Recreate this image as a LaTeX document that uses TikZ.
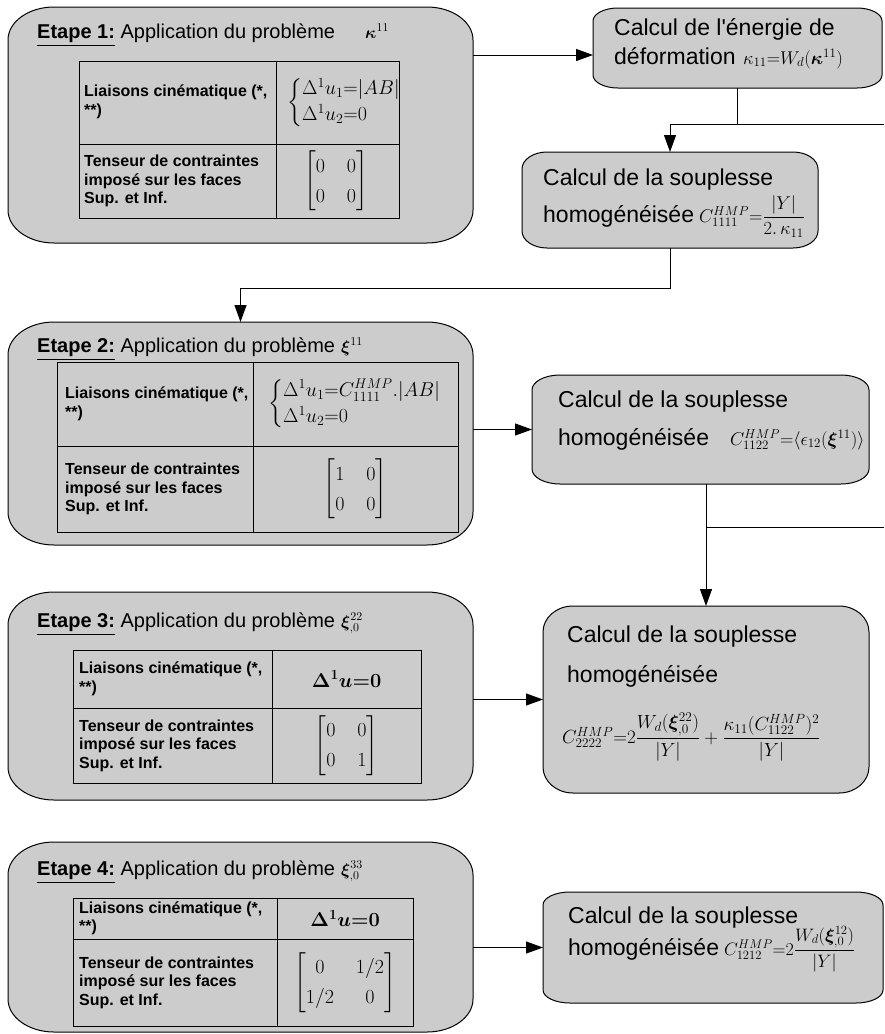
\documentclass[tikz,border=0pt]{standalone}
\usepackage{fix-cm}
\usepackage{amsmath,amssymb,bm}
\usepackage[no-math]{fontspec}
\setmainfont{Liberation Sans}[Ligatures=TeXOff]
\usetikzlibrary{arrows.meta}
\definecolor{boxgray}{RGB}{204,204,204}
\newcommand\eshape[3]{%
 \draw[shapeline] ([yshift=-#3pt]#1.north west) arc[start angle=180,end angle=90,x radius=#2pt,y radius=#3pt]
  -- ([xshift=-#2pt]#1.north east) arc[start angle=90,end angle=0,x radius=#2pt,y radius=#3pt]
  -- ([yshift=#3pt]#1.south east) arc[start angle=0,end angle=-90,x radius=#2pt,y radius=#3pt]
  -- ([xshift=#2pt]#1.south west) arc[start angle=270,end angle=180,x radius=#2pt,y radius=#3pt]
  -- cycle;}
\newcommand\mymat[1]{{\renewcommand\arraystretch{1.25}\left[\begin{array}{@{}c@{\hspace{22pt}}c@{}}#1\end{array}\right]}}
\newcommand\mycases[1]{{\renewcommand\arraystretch{1.1}\left\{\begin{array}{@{}l@{}}#1\end{array}\right.}}
\tikzset{
 boxarea/.style={rectangle, inner sep=0pt, outer sep=0pt},
 shapeline/.style={draw=black, fill=boxgray, line width=1pt},
 arr/.style={-{Triangle[length=17pt,width=12pt]}, line width=1pt},
 conn/.style={line width=1pt},
 tline/.style={line width=1pt},
 ttl/.style={anchor=base west, inner sep=0pt, font=\fontsize{20}{24}\selectfont},
 txt/.style={anchor=base west, inner sep=0pt, font=\fontsize{23}{27}\selectfont},
 cell/.style={anchor=west, inner sep=0pt, align=left, font=\fontsize{16}{18.5}\selectfont\bfseries},
 mth/.style={inner sep=0pt, font=\fontsize{20}{24}\selectfont},
 smth/.style={inner sep=0pt, anchor=base west, font=\fontsize{18.5}{22}\selectfont},
 tsym/.style={inner sep=0pt, anchor=base west, font=\fontsize{17}{20}\selectfont},
}
\begin{document}
\begin{tikzpicture}[x=1pt,y=1pt]
\useasboundingbox (0,0) rectangle (884,-1034);
% box areas
\node[boxarea, minimum width=465pt, minimum height=236pt] (e1) at (240.5,-125) {};
\node[boxarea, minimum width=465pt, minimum height=223pt] (e2) at (240.5,-433.5) {};
\node[boxarea, minimum width=465pt, minimum height=208pt] (e3) at (240.5,-696) {};
\node[boxarea, minimum width=465pt, minimum height=190pt] (e4) at (240.5,-937) {};
\node[boxarea, minimum width=289pt, minimum height=80pt] (en) at (737.5,-48) {};
\node[boxarea, minimum width=296pt, minimum height=96pt] (s1) at (670,-200) {};
\node[boxarea, minimum width=337pt, minimum height=109pt] (s2) at (700.5,-429.5) {};
\node[boxarea, minimum width=326pt, minimum height=187pt] (s3) at (706,-699.5) {};
\node[boxarea, minimum width=340pt, minimum height=111pt] (s4) at (713,-947.5) {};
% shapes
\eshape{e1}{46}{33}
\eshape{e2}{46}{33}
\eshape{e3}{46}{33}
\eshape{e4}{46}{33}
\eshape{en}{25}{13}
\eshape{s1}{25}{17}
\eshape{s2}{28}{15}
\eshape{s3}{30}{26}
\eshape{s4}{27}{13}

% ---- Etape 1
\node[ttl] (t1) at (37,-38) {\underline{\textbf{Etape 1:}} Application du problème};
\node[tsym] (k1) at (365,-38) {$\boldsymbol{\kappa}^{11}$};
\draw[tline] (79,-61) rectangle (399,-218);
\draw[tline] (276,-61) -- (276,-218);
\draw[tline] (79,-144) -- (399,-144);
\node[cell] (c1a) at (84,-102) {Liaisons cinématique (*,\\**)};
\node[mth, anchor=west] (m1a) at (287,-102.5) {$\mycases{\Delta^1u_1{=}|AB|\\ \Delta^1u_2{=}0}$};
\node[cell] (c1b) at (84,-181) {Tenseur de contraintes\\imposé sur les faces\\Sup. et Inf.};
\node[mth] (m1b) at (336,-181) {$\mymat{0&0\\0&0}$};

% ---- Etape 2
\node[ttl] (t2) at (37,-352) {\underline{\textbf{Etape 2:}} Application du problème};
\node[tsym] (k2) at (341,-352) {$\boldsymbol{\xi}^{11}$};
\draw[tline] (57,-362) rectangle (458,-532);
\draw[tline] (253,-362) -- (253,-532);
\draw[tline] (57,-446) -- (458,-446);
\node[cell] (c2a) at (65,-404) {Liaisons cinématique (*,\\**)};
\node[mth, anchor=west] (m2a) at (268,-404) {$\mycases{\Delta^1u_1{=}C^{HMP}_{1111}.|AB|\\ \Delta^1u_2{=}0}$};
\node[cell] (c2b) at (65,-489) {Tenseur de contraintes\\imposé sur les faces\\Sup. et Inf.};
\node[mth] (m2b) at (355.5,-489) {$\mymat{1&0\\0&0}$};

% ---- Etape 3
\node[ttl] (t3) at (37,-627) {\underline{\textbf{Etape 3:}} Application du problème};
\node[tsym] (k3) at (341,-627) {$\boldsymbol{\xi}^{22}_{,0}$};
\draw[tline] (73,-650) rectangle (421,-783);
\draw[tline] (272,-650) -- (272,-783);
\draw[tline] (73,-708) -- (421,-708);
\node[cell] (c3a) at (79,-679) {Liaisons cinématique (*,\\**)};
\node[mth] (m3a) at (346.5,-679) {$\boldsymbol{\Delta^1u{=}0}$};
\node[cell] (c3b) at (79,-745.5) {Tenseur de contraintes\\imposé sur les faces\\Sup. et Inf.};
\node[mth] (m3b) at (346.5,-745.5) {$\mymat{0&0\\0&1}$};

% ---- Etape 4
\node[ttl] (t4) at (37,-875) {\underline{\textbf{Etape 4:}} Application du problème};
\node[tsym] (k4) at (341,-875) {$\boldsymbol{\xi}^{33}_{,0}$};
\draw[tline] (73,-898) rectangle (413,-1026);
\draw[tline] (277,-898) -- (277,-1026);
\draw[tline] (73,-939) -- (413,-939);
\node[cell] (c4a) at (79,-918.5) {Liaisons cinématique (*,\\**)};
\node[mth] (m4a) at (345,-918.5) {$\boldsymbol{\Delta^1u{=}0}$};
\node[cell] (c4b) at (79,-982.5) {Tenseur de contraintes\\imposé sur les faces\\Sup. et Inf.};
\node[mth] (m4b) at (345,-982.5) {$\mymat{0&1/2\\1/2&0}$};

% ---- right column texts
\node[txt] (en1) at (614,-35) {Calcul de l'énergie de};
\node[txt] (en2) at (614,-64) {déformation};
\node[smth] (enm) at (743,-64) {$\kappa_{11}{=}W_d(\boldsymbol{\kappa}^{11})$};

\node[txt] (s1a) at (543,-185) {Calcul de la souplesse};
\node[txt] (s1b) at (543,-222) {homogénéisée};
\node[smth] (s1m) at (699,-222) {$C^{HMP}_{1111}{=}\dfrac{|Y|}{2.\,\kappa_{11}}$};

\node[txt] (s2a) at (558,-407) {Calcul de la souplesse};
\node[txt] (s2b) at (558,-445) {homogénéisée};
\node[smth] (s2m) at (730,-445) {$C^{HMP}_{1122}{=}\langle\epsilon_{12}(\boldsymbol{\xi}^{11})\rangle$};

\node[txt] (s3a) at (567,-642) {Calcul de la souplesse};
\node[txt] (s3b) at (567,-682) {homogénéisée};
\node[smth, font=\fontsize{19}{22}\selectfont] (s3m) at (562,-743) {$C^{HMP}_{2222}{=}2\dfrac{W_d(\boldsymbol{\xi}^{22}_{,0})}{|Y|}+\dfrac{\kappa_{11}(C^{HMP}_{1122})^2}{|Y|}$};

\node[txt] (s4a) at (568,-923) {Calcul de la souplesse};
\node[txt] (s4b) at (568,-955) {homogénéisée};
\node[smth, font=\fontsize{18}{21}\selectfont] (s4m) at (724,-955) {$C^{HMP}_{1212}{=}2\dfrac{W_d(\boldsymbol{\xi}^{12}_{,0})}{|Y|}$};

% ---- connectors
\coordinate (j1) at (en.south |- 0,-124);
\coordinate (j1l) at (s1.north |- j1);
\coordinate (j1r) at (884,-124);
\coordinate (j2) at (s1.south |- 0,-288);
\coordinate (j3) at (s3.north |- s2.south);
\coordinate (j3b) at (s3.north |- 0,-527);
\coordinate (j3r) at (884,-527);

\draw[arr] ([yshift=-7pt]en.west -| e1.east) -- ([yshift=-7pt]en.west);
\draw[conn] (en.south) -- (j1);
\draw[conn] (j1l) -- (j1r);
\draw[arr] (j1l) -- (s1.north);
\draw[arr] (s1.south) -- (j2) -| (e2.north);
\draw[arr] (s2.west -| e2.east) -- (s2.west);
\draw[conn] (j3) -- (j3b) -- (j3r);
\draw[arr] (j3b) -- (s3.north);
\draw[arr] (s3.west -| e3.east) -- (s3.west);
\draw[arr] (s4.west -| e4.east) -- (s4.west);
\end{tikzpicture}
\end{document}
